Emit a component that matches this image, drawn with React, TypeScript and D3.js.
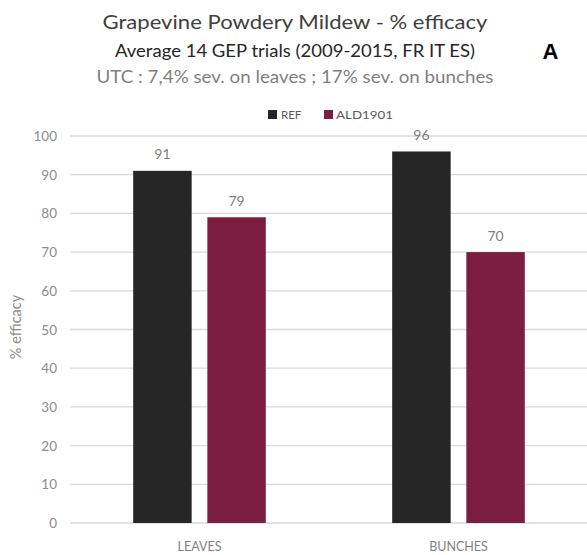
import React from "react";
import * as d3 from "d3";

const categories = ["LEAVES", "BUNCHES"];
const seriesNames = ["REF", "ALD1901"];
const refValues = [91, 96];
const aldValues = [79, 70];
const yTicks = [0, 10, 20, 30, 40, 50, 60, 70, 80, 90, 100];
const colors = ["#262626", "#7b1e40"];

const W = 587;
const H = 555;
const FONT = "Lato, 'Open Sans', sans-serif";

export default function App() {
  const x0 = d3.scaleBand<string>().domain(categories).range([70, 588]).paddingInner(0.488).paddingOuter(0.244);
  const x1 = d3.scaleBand<string>().domain(seriesNames).range([0, x0.bandwidth()]).paddingInner(0.2116).paddingOuter(0);
  const y = d3.scaleLinear().domain([0, 100]).range([523, 136]);
  const values = [refValues, aldValues];

  return (
    <svg width={W} height={H} style={{ position: "absolute", left: 0, top: 0, background: "#fff" }} fontFamily={FONT}>
      <rect width={W} height={H} fill="#fff" />
      {/* titles */}
      <text x={295} y={29} textAnchor="middle" fontSize={20} fill="#404040" textLength={385} lengthAdjust="spacingAndGlyphs">
        Grapevine Powdery Mildew - % efficacy
      </text>
      <text x={295} y={57} textAnchor="middle" fontSize={17} fill="#262626" textLength={360} lengthAdjust="spacingAndGlyphs">
        Average 14 GEP trials (2009-2015, FR IT ES)
      </text>
      <text x={295} y={83} textAnchor="middle" fontSize={17} fill="#7f7f7f" textLength={397} lengthAdjust="spacingAndGlyphs">
        UTC : 7,4% sev. on leaves ; 17% sev. on bunches
      </text>
      <text x={550.5} y={59} textAnchor="middle" fontSize={22} fontWeight="bold" fill="#000" fontFamily="'Liberation Sans', Arial, sans-serif">
        A
      </text>
      {/* legend */}
      <rect x={268} y={110} width={9} height={9} fill={colors[0]} />
      <text x={281} y={119} fontSize={11.5} fill="#595959">REF</text>
      <rect x={324} y={110} width={9} height={9} fill={colors[1]} />
      <text x={336} y={119} fontSize={11.5} fill="#595959" textLength={57} lengthAdjust="spacingAndGlyphs">ALD1901</text>
      {/* grid */}
      {yTicks.map((t) => (
        <g key={t}>
          <line x1={70} x2={588} y1={y(t)} y2={y(t)} stroke="#d9d9d9" strokeWidth={1.3} />
          <text x={57} y={y(t) + 5} textAnchor="end" fontSize={13.5} fill="#8c8c8c">
            {t}
          </text>
        </g>
      ))}
      {/* y axis title */}
      <text transform={`translate(21,327) rotate(-90)`} textAnchor="middle" fontSize={14.5} fill="#8c8c8c">
        % efficacy
      </text>
      {/* bars */}
      {categories.map((c, ci) => (
        <g key={c} transform={`translate(${x0(c)},0)`}>
          {seriesNames.map((s, si) => {
            const v = values[si][ci];
            const bx = x1(s)!;
            return (
              <g key={s}>
                <rect x={bx} y={y(v)} width={x1.bandwidth()} height={y(0) - y(v)} fill={colors[si]} />
                <text x={bx + x1.bandwidth() / 2} y={y(v) - 11.5} textAnchor="middle" fontSize={14} fill="#7f7f7f">
                  {v}
                </text>
              </g>
            );
          })}
          <text x={x0.bandwidth() / 2} y={551} textAnchor="middle" fontSize={12.5} fill="#7f7f7f">
            {c}
          </text>
        </g>
      ))}
    </svg>
  );
}
